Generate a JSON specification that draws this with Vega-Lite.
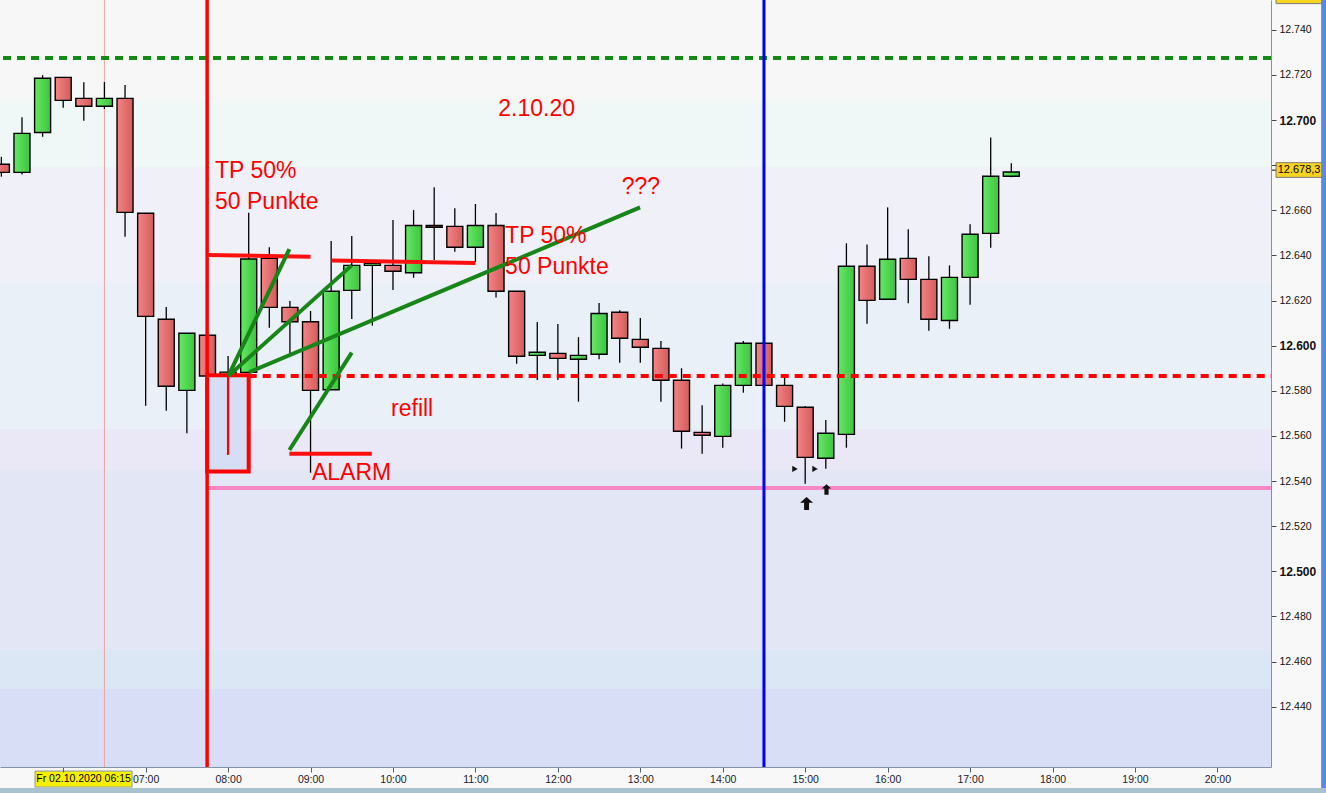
{
  "$schema": "https://vega.github.io/schema/vega-lite/v6.json",
  "width": 1271,
  "height": 767,
  "autosize": {"type": "none"},
  "padding": {"left": 0, "top": 0, "right": 55, "bottom": 26},
  "background": "#F8F8F8",
  "config": {
    "view": {"stroke": null},
    "axis": {"labelFont": "Liberation Sans", "titleFont": "Liberation Sans", "grid": false},
    "text": {"font": "Liberation Sans"}
  },
  "datasets": {
    "bands": [
      {"band": "b1", "lo": 12708.4, "hi": 12760},
      {"band": "b2", "lo": 12679.2, "hi": 12708.4},
      {"band": "b3", "lo": 12627.8, "hi": 12679.2},
      {"band": "b4", "lo": 12563.1, "hi": 12627.8},
      {"band": "b5", "lo": 12544.9, "hi": 12563.1},
      {"band": "b6", "lo": 12465.2, "hi": 12544.9},
      {"band": "b7", "lo": 12447.9, "hi": 12465.2},
      {"band": "b8", "lo": 12400, "hi": 12447.9}
    ],
    "candles": [
      {"t": "2020-10-02T05:15:00", "o": 12680.4, "h": 12683.7, "l": 12674.9, "c": 12676.8},
      {"t": "2020-10-02T05:30:00", "o": 12676.8, "h": 12701.2, "l": 12675.9, "c": 12694.1},
      {"t": "2020-10-02T05:45:00", "o": 12694.5, "h": 12719.9, "l": 12692.6, "c": 12718.5},
      {"t": "2020-10-02T06:00:00", "o": 12718.9, "h": 12719.1, "l": 12705.5, "c": 12708.7},
      {"t": "2020-10-02T06:15:00", "o": 12709.6, "h": 12716.8, "l": 12699.7, "c": 12706.1},
      {"t": "2020-10-02T06:30:00", "o": 12706.1, "h": 12716.8, "l": 12704.9, "c": 12709.6},
      {"t": "2020-10-02T06:45:00", "o": 12709.6, "h": 12715.5, "l": 12648.3, "c": 12659.1},
      {"t": "2020-10-02T07:00:00", "o": 12658.7, "h": 12658.7, "l": 12573.4, "c": 12613.0},
      {"t": "2020-10-02T07:15:00", "o": 12611.7, "h": 12617.1, "l": 12571.2, "c": 12582.0},
      {"t": "2020-10-02T07:30:00", "o": 12580.2, "h": 12605.5, "l": 12561.2, "c": 12605.5},
      {"t": "2020-10-02T07:45:00", "o": 12604.6, "h": 12604.6, "l": 12586.6, "c": 12586.6},
      {"t": "2020-10-02T08:00:00", "o": 12587.0, "h": 12595.4, "l": 12586.5, "c": 12588.3},
      {"t": "2020-10-02T08:15:00", "o": 12588.2, "h": 12658.9, "l": 12588.2, "c": 12638.4},
      {"t": "2020-10-02T08:30:00", "o": 12638.7, "h": 12643.6, "l": 12608.0, "c": 12617.0},
      {"t": "2020-10-02T08:45:00", "o": 12617.0, "h": 12619.8, "l": 12596.6, "c": 12610.6},
      {"t": "2020-10-02T09:00:00", "o": 12610.6, "h": 12615.4, "l": 12543.7, "c": 12580.2},
      {"t": "2020-10-02T09:15:00", "o": 12580.5, "h": 12646.4, "l": 12580.5, "c": 12624.1},
      {"t": "2020-10-02T09:30:00", "o": 12624.5, "h": 12648.6, "l": 12611.8, "c": 12635.6},
      {"t": "2020-10-02T09:45:00", "o": 12635.6, "h": 12638.0, "l": 12608.9, "c": 12636.5},
      {"t": "2020-10-02T10:00:00", "o": 12635.6, "h": 12655.7, "l": 12624.7, "c": 12633.0},
      {"t": "2020-10-02T10:15:00", "o": 12632.3, "h": 12660.1, "l": 12630.1, "c": 12653.3},
      {"t": "2020-10-02T10:30:00", "o": 12653.3, "h": 12670.2, "l": 12638.0, "c": 12652.5},
      {"t": "2020-10-02T10:45:00", "o": 12652.9, "h": 12660.9, "l": 12641.6, "c": 12643.6},
      {"t": "2020-10-02T11:00:00", "o": 12643.6, "h": 12662.8, "l": 12637.1, "c": 12653.3},
      {"t": "2020-10-02T11:15:00", "o": 12653.3, "h": 12658.8, "l": 12621.4, "c": 12624.1},
      {"t": "2020-10-02T11:30:00", "o": 12624.1, "h": 12624.1, "l": 12592.0, "c": 12595.3},
      {"t": "2020-10-02T11:45:00", "o": 12595.7, "h": 12610.5, "l": 12584.8, "c": 12597.1},
      {"t": "2020-10-02T12:00:00", "o": 12596.6, "h": 12609.6, "l": 12584.8, "c": 12594.4},
      {"t": "2020-10-02T12:15:00", "o": 12594.0, "h": 12603.8, "l": 12575.2, "c": 12595.7},
      {"t": "2020-10-02T12:30:00", "o": 12596.2, "h": 12618.9, "l": 12594.0, "c": 12614.3},
      {"t": "2020-10-02T12:45:00", "o": 12614.8, "h": 12615.7, "l": 12592.5, "c": 12603.3},
      {"t": "2020-10-02T13:00:00", "o": 12602.8, "h": 12612.3, "l": 12592.5, "c": 12599.3},
      {"t": "2020-10-02T13:15:00", "o": 12598.8, "h": 12602.1, "l": 12575.2, "c": 12584.7},
      {"t": "2020-10-02T13:30:00", "o": 12584.7, "h": 12590.0, "l": 12554.4, "c": 12562.1},
      {"t": "2020-10-02T13:45:00", "o": 12561.6, "h": 12573.6, "l": 12552.1, "c": 12560.3},
      {"t": "2020-10-02T14:00:00", "o": 12559.8, "h": 12583.3, "l": 12554.8, "c": 12582.4},
      {"t": "2020-10-02T14:15:00", "o": 12582.4, "h": 12602.1, "l": 12579.2, "c": 12601.1},
      {"t": "2020-10-02T14:30:00", "o": 12601.1, "h": 12601.1, "l": 12582.4, "c": 12582.4},
      {"t": "2020-10-02T14:45:00", "o": 12582.4, "h": 12587.3, "l": 12566.3, "c": 12573.1},
      {"t": "2020-10-02T15:00:00", "o": 12572.7, "h": 12573.3, "l": 12538.8, "c": 12550.5},
      {"t": "2020-10-02T15:15:00", "o": 12550.1, "h": 12567.1, "l": 12545.5, "c": 12561.2},
      {"t": "2020-10-02T15:30:00", "o": 12560.7, "h": 12645.4, "l": 12554.8, "c": 12635.2},
      {"t": "2020-10-02T15:45:00", "o": 12635.2, "h": 12644.9, "l": 12609.7, "c": 12620.1},
      {"t": "2020-10-02T16:00:00", "o": 12620.6, "h": 12661.3, "l": 12620.6, "c": 12638.3},
      {"t": "2020-10-02T16:15:00", "o": 12638.7, "h": 12651.6, "l": 12618.8, "c": 12629.4},
      {"t": "2020-10-02T16:30:00", "o": 12629.4, "h": 12639.6, "l": 12606.6, "c": 12611.7},
      {"t": "2020-10-02T16:45:00", "o": 12611.2, "h": 12635.6, "l": 12607.5, "c": 12630.3},
      {"t": "2020-10-02T17:00:00", "o": 12630.3, "h": 12653.8, "l": 12618.2, "c": 12649.4},
      {"t": "2020-10-02T17:15:00", "o": 12649.8, "h": 12692.3, "l": 12643.4, "c": 12675.1},
      {"t": "2020-10-02T17:30:00", "o": 12675.1, "h": 12680.8, "l": 12674.6, "c": 12677.0}
    ],
    "box": [{"x": "2020-10-02T07:44:45", "x2": "2020-10-02T08:15:00", "y": 12586.9, "y2": 12544.3}],
    "innerLine": [{"x": "2020-10-02T08:00:00", "y": 12587.5, "y2": 12551.6}],
    "redDashed": [{"x": "2020-10-02T08:15:00", "x2": "2020-10-02T20:39:00", "y": 12586.6}],
    "pinkLine": [{"x": "2020-10-02T07:44:45", "x2": "2020-10-02T20:39:00", "y": 12536.9}],
    "greenDashed": [{"y": 12727.5}],
    "redV": [{"x": "2020-10-02T07:44:45"}],
    "blueV": [{"x": "2020-10-02T14:30:00"}],
    "pinkV": [{"x": "2020-10-02T06:30:00"}],
    "redSegs": [
      {"x": "2020-10-02T07:45:00", "y": 12640.2, "x2": "2020-10-02T09:00:00", "y2": 12639.4},
      {"x": "2020-10-02T09:15:20", "y": 12637.8, "x2": "2020-10-02T11:00:00", "y2": 12636.6},
      {"x": "2020-10-02T08:44:36", "y": 12552.1, "x2": "2020-10-02T09:44:36", "y2": 12552.1}
    ],
    "greenSegs": [
      {"x": "2020-10-02T08:00:10", "y": 12586.6, "x2": "2020-10-02T08:44:36", "y2": 12642.8},
      {"x": "2020-10-02T08:00:10", "y": 12586.6, "x2": "2020-10-02T09:30:00", "y2": 12635.6},
      {"x": "2020-10-02T08:15:30", "y": 12588.3, "x2": "2020-10-02T12:59:50", "y2": 12661.3},
      {"x": "2020-10-02T08:44:36", "y": 12553.8, "x2": "2020-10-02T09:30:00", "y2": 12596.9}
    ],
    "labels": [
      {"x": "2020-10-02T11:16:40", "y": 12701.9, "text": "2.10.20"},
      {"x": "2020-10-02T07:50:30", "y": 12674.4, "text": "TP 50%"},
      {"x": "2020-10-02T07:50:30", "y": 12660.4, "text": "50 Punkte"},
      {"x": "2020-10-02T11:21:36", "y": 12645.4, "text": "TP 50%"},
      {"x": "2020-10-02T11:21:36", "y": 12631.6, "text": "50 Punkte"},
      {"x": "2020-10-02T12:46:30", "y": 12667.2, "text": "???"},
      {"x": "2020-10-02T09:58:36", "y": 12569.0, "text": "refill"},
      {"x": "2020-10-02T09:01:00", "y": 12540.5, "text": "ALARM"}
    ],
    "bigArrow": [{"x": "2020-10-02T15:01:00", "y": 12530.1}],
    "smallArrow": [{"x": "2020-10-02T15:15:30", "y": 12536.3}],
    "triRight": [
      {"x": "2020-10-02T14:52:35", "y": 12545.4},
      {"x": "2020-10-02T15:07:10", "y": 12545.4}
    ],
    "priceBox": [
      {"x": "2020-10-02T20:42:40", "x2": "2020-10-02T21:16:10", "y": 12674.6, "y2": 12681.1},
      {"x": "2020-10-02T20:42:40", "x2": "2020-10-02T21:16:10", "y": 12751.6, "y2": 12762.0}
    ],
    "priceTick": [{"x": "2020-10-02T20:39:00", "x2": "2020-10-02T20:42:40", "y": 12677.8}],
    "priceText": [{"x": "2020-10-02T20:59:25", "y": 12677.8, "text": "12.678,3"}],
    "dateBox": [{"x": "2020-10-02T05:39:30", "x2": "2020-10-02T06:50:06", "y": 12404.4, "y2": 12411.5}],
    "dateText": [{"x": "2020-10-02T06:14:48", "y": 12408.0, "text": "Fr 02.10.2020 06:15"}],
    "rightStrip": [{"x": "2020-10-02T21:15:30", "x2": "2020-10-02T21:40:00", "y": 12380, "y2": 12780}],
    "bottomStrip": [{"x": "2020-10-02T04:00:00", "x2": "2020-10-02T21:40:00", "y": 12380, "y2": 12404.0}]
  },
  "layer": [
    {
      "data": {"name": "bands"},
      "mark": {"type": "rect", "clip": true},
      "encoding": {
        "y": {
          "field": "lo", "type": "quantitative", "title": null,
          "scale": {"domain": [12413.3, 12753.2], "nice": false, "zero": false, "padding": 0},
          "axis": {
            "title": null, "orient": "right",
            "values": [12440, 12460, 12480, 12500, 12520, 12540, 12560, 12580, 12600, 12620, 12640, 12660, 12680, 12700, 12720, 12740],
            "labelExpr": "datum.value == 12680 ? '' : replace(format(datum.value, ','), ',', '.')",
            "tickSize": 5, "tickColor": "#404850", "domainColor": "#7F93A5",
            "labelPadding": 3, "labelColor": "#111111", "grid": false, "zindex": 1,
            "labelFontSize": {"condition": {"test": "datum.value % 100 === 0", "value": 12}, "value": 10.5},
            "labelFontWeight": {"condition": {"test": "datum.value % 100 === 0", "value": "bold"}, "value": "normal"}
          }
        },
        "y2": {"field": "hi"},
        "color": {
          "field": "band", "type": "nominal", "legend": null,
          "scale": {
            "domain": ["b1", "b2", "b3", "b4", "b5", "b6", "b7", "b8"],
            "range": ["#F7F7F7", "#EFF7F7", "#F0F0F9", "#E9F0F8", "#EAE8F6", "#E3E7F5", "#DBE7F5", "#D7DEF6"]
          }
        }
      }
    },
    {
      "data": {"name": "pinkV"},
      "mark": {"type": "rule", "color": "#F2A0A0", "strokeWidth": 1},
      "encoding": {"x": {"field": "x", "type": "temporal", "title": null}}
    },
    {
      "data": {"name": "candles"},
      "mark": {"type": "rule", "color": "#000000", "strokeWidth": 1.3},
      "encoding": {
        "x": {
          "field": "t", "type": "temporal", "title": null,
          "scale": {"padding": 0, "domain": [
            {"year": 2020, "month": 10, "date": 2, "hours": 5, "minutes": 14},
            {"year": 2020, "month": 10, "date": 2, "hours": 20, "minutes": 39}
          ]},
          "axis": {
            "title": null, "orient": "bottom",
            "values": [
              {"year": 2020, "month": 10, "date": 2, "hours": 6},
              {"year": 2020, "month": 10, "date": 2, "hours": 7},
              {"year": 2020, "month": 10, "date": 2, "hours": 8},
              {"year": 2020, "month": 10, "date": 2, "hours": 9},
              {"year": 2020, "month": 10, "date": 2, "hours": 10},
              {"year": 2020, "month": 10, "date": 2, "hours": 11},
              {"year": 2020, "month": 10, "date": 2, "hours": 12},
              {"year": 2020, "month": 10, "date": 2, "hours": 13},
              {"year": 2020, "month": 10, "date": 2, "hours": 14},
              {"year": 2020, "month": 10, "date": 2, "hours": 15},
              {"year": 2020, "month": 10, "date": 2, "hours": 16},
              {"year": 2020, "month": 10, "date": 2, "hours": 17},
              {"year": 2020, "month": 10, "date": 2, "hours": 18},
              {"year": 2020, "month": 10, "date": 2, "hours": 19},
              {"year": 2020, "month": 10, "date": 2, "hours": 20}
            ],
            "format": "%H:%M",
            "labelExpr": "hours(datum.value) == 6 ? '' : datum.label",
            "tickSize": 5, "tickColor": "#50606C", "domainColor": "#7F93A5",
            "labelFontSize": 10.5, "labelColor": "#1A1A2E", "labelPadding": 2,
            "grid": false, "zindex": 1, "labelFlush": false, "labelOverlap": false
          }
        },
        "y": {"field": "l", "type": "quantitative", "title": null},
        "y2": {"field": "h"}
      }
    },
    {
      "data": {"name": "candles"},
      "transform": [{"filter": "datum.c < datum.o"}],
      "mark": {
        "type": "bar", "width": 16, "stroke": "#000000", "strokeWidth": 1.4,
        "fill": {"gradient": "linear", "x1": 0, "y1": 0, "x2": 1, "y2": 0,
          "stops": [{"offset": 0, "color": "#F58484"}, {"offset": 1, "color": "#D25C5C"}]}
      },
      "encoding": {
        "x": {"field": "t", "type": "temporal", "title": null},
        "y": {"field": "o", "type": "quantitative", "title": null},
        "y2": {"field": "c"}
      }
    },
    {
      "data": {"name": "candles"},
      "transform": [{"filter": "datum.c >= datum.o"}],
      "mark": {
        "type": "bar", "width": 16, "stroke": "#000000", "strokeWidth": 1.4,
        "fill": {"gradient": "linear", "x1": 0, "y1": 0, "x2": 1, "y2": 0,
          "stops": [{"offset": 0, "color": "#66E866"}, {"offset": 1, "color": "#3EC43E"}]}
      },
      "encoding": {
        "x": {"field": "t", "type": "temporal", "title": null},
        "y": {"field": "o", "type": "quantitative", "title": null},
        "y2": {"field": "c"}
      }
    },
    {
      "data": {"name": "box"},
      "mark": {"type": "rect", "fill": "#D6DEF6", "stroke": "#FF0000", "strokeWidth": 4},
      "encoding": {
        "x": {"field": "x", "type": "temporal", "title": null},
        "x2": {"field": "x2"},
        "y": {"field": "y", "type": "quantitative", "title": null},
        "y2": {"field": "y2"}
      }
    },
    {
      "data": {"name": "innerLine"},
      "mark": {"type": "rule", "color": "#FF0000", "strokeWidth": 2.3},
      "encoding": {
        "x": {"field": "x", "type": "temporal", "title": null},
        "y": {"field": "y", "type": "quantitative", "title": null},
        "y2": {"field": "y2"}
      }
    },
    {
      "data": {"name": "redDashed"},
      "mark": {"type": "rule", "color": "#FF0000", "strokeWidth": 4, "strokeDash": [8, 6]},
      "encoding": {
        "x": {"field": "x", "type": "temporal", "title": null},
        "x2": {"field": "x2"},
        "y": {"field": "y", "type": "quantitative", "title": null}
      }
    },
    {
      "data": {"name": "pinkLine"},
      "mark": {"type": "rule", "color": "#F788C6", "strokeWidth": 4},
      "encoding": {
        "x": {"field": "x", "type": "temporal", "title": null},
        "x2": {"field": "x2"},
        "y": {"field": "y", "type": "quantitative", "title": null}
      }
    },
    {
      "data": {"name": "greenDashed"},
      "mark": {"type": "rule", "color": "#138A13", "strokeWidth": 4, "strokeDash": [8, 6]},
      "encoding": {"y": {"field": "y", "type": "quantitative", "title": null}}
    },
    {
      "data": {"name": "redV"},
      "mark": {"type": "rule", "color": "#FF0000", "strokeWidth": 3.5},
      "encoding": {"x": {"field": "x", "type": "temporal", "title": null}}
    },
    {
      "data": {"name": "blueV"},
      "mark": {"type": "rule", "color": "#0000F0", "strokeWidth": 3},
      "encoding": {"x": {"field": "x", "type": "temporal", "title": null}}
    },
    {
      "data": {"name": "redSegs"},
      "mark": {"type": "rule", "color": "#FF1010", "strokeWidth": 4},
      "encoding": {
        "x": {"field": "x", "type": "temporal", "title": null},
        "x2": {"field": "x2"},
        "y": {"field": "y", "type": "quantitative", "title": null},
        "y2": {"field": "y2"}
      }
    },
    {
      "data": {"name": "greenSegs"},
      "mark": {"type": "rule", "color": "#178517", "strokeWidth": 4},
      "encoding": {
        "x": {"field": "x", "type": "temporal", "title": null},
        "x2": {"field": "x2"},
        "y": {"field": "y", "type": "quantitative", "title": null},
        "y2": {"field": "y2"}
      }
    },
    {
      "data": {"name": "labels"},
      "mark": {"type": "text", "color": "#FF0000", "fontSize": 23, "font": "Liberation Sans", "align": "left", "baseline": "alphabetic"},
      "encoding": {
        "x": {"field": "x", "type": "temporal", "title": null},
        "y": {"field": "y", "type": "quantitative", "title": null},
        "text": {"field": "text"}
      }
    },
    {
      "data": {"name": "bigArrow"},
      "mark": {"type": "point", "shape": "M0,-1L1,-0.1L0.38,-0.1L0.38,1L-0.38,1L-0.38,-0.1L-1,-0.1Z", "filled": true, "color": "#111111", "size": 170, "opacity": 1},
      "encoding": {
        "x": {"field": "x", "type": "temporal", "title": null},
        "y": {"field": "y", "type": "quantitative", "title": null}
      }
    },
    {
      "data": {"name": "smallArrow"},
      "mark": {"type": "point", "shape": "M0,-1L0.9,-0.2L0.4,-0.2L0.4,1L-0.4,1L-0.4,-0.2L-0.9,-0.2Z", "filled": true, "color": "#111111", "size": 110, "opacity": 1},
      "encoding": {
        "x": {"field": "x", "type": "temporal", "title": null},
        "y": {"field": "y", "type": "quantitative", "title": null}
      }
    },
    {
      "data": {"name": "triRight"},
      "mark": {"type": "point", "shape": "triangle-right", "filled": true, "color": "#111111", "size": 40, "opacity": 1},
      "encoding": {
        "x": {"field": "x", "type": "temporal", "title": null},
        "y": {"field": "y", "type": "quantitative", "title": null}
      }
    },
    {
      "data": {"name": "priceTick"},
      "mark": {"type": "rule", "color": "#000000", "strokeWidth": 1},
      "encoding": {
        "x": {"field": "x", "type": "temporal", "title": null},
        "x2": {"field": "x2"},
        "y": {"field": "y", "type": "quantitative", "title": null}
      }
    },
    {
      "data": {"name": "priceBox"},
      "mark": {"type": "rect", "fill": "#F9D41E", "stroke": "#7A7A7A", "strokeWidth": 1},
      "encoding": {
        "x": {"field": "x", "type": "temporal", "title": null},
        "x2": {"field": "x2"},
        "y": {"field": "y", "type": "quantitative", "title": null},
        "y2": {"field": "y2"}
      }
    },
    {
      "data": {"name": "priceText"},
      "mark": {"type": "text", "color": "#000000", "fontSize": 11, "font": "Liberation Sans", "align": "center", "baseline": "middle"},
      "encoding": {
        "x": {"field": "x", "type": "temporal", "title": null},
        "y": {"field": "y", "type": "quantitative", "title": null},
        "text": {"field": "text"}
      }
    },
    {
      "data": {"name": "dateBox"},
      "mark": {"type": "rect", "fill": "#F6F000", "stroke": "#8A98A6", "strokeWidth": 1},
      "encoding": {
        "x": {"field": "x", "type": "temporal", "title": null},
        "x2": {"field": "x2"},
        "y": {"field": "y", "type": "quantitative", "title": null},
        "y2": {"field": "y2"}
      }
    },
    {
      "data": {"name": "dateText"},
      "mark": {"type": "text", "color": "#000000", "fontSize": 10.5, "font": "Liberation Sans", "align": "center", "baseline": "middle"},
      "encoding": {
        "x": {"field": "x", "type": "temporal", "title": null},
        "y": {"field": "y", "type": "quantitative", "title": null},
        "text": {"field": "text"}
      }
    },
    {
      "data": {"name": "rightStrip"},
      "mark": {"type": "rect", "fill": "#5A8AE0"},
      "encoding": {
        "x": {"field": "x", "type": "temporal", "title": null},
        "x2": {"field": "x2"},
        "y": {"field": "y", "type": "quantitative", "title": null},
        "y2": {"field": "y2"}
      }
    },
    {
      "data": {"name": "bottomStrip"},
      "mark": {"type": "rect", "fill": "#A8C2CE"},
      "encoding": {
        "x": {"field": "x", "type": "temporal", "title": null},
        "x2": {"field": "x2"},
        "y": {"field": "y", "type": "quantitative", "title": null},
        "y2": {"field": "y2"}
      }
    }
  ]
}
